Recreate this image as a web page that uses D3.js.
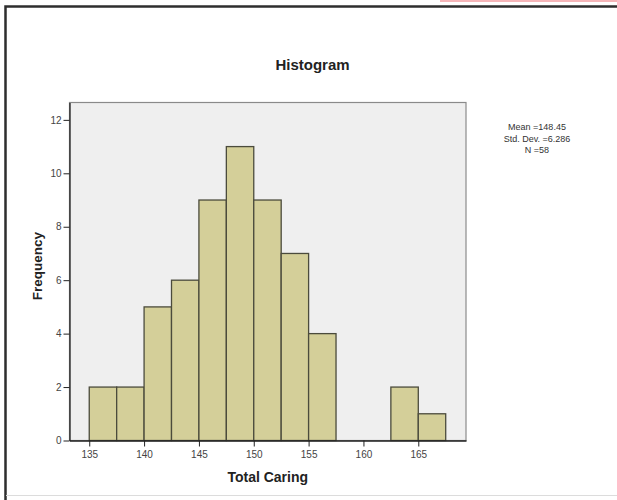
<!DOCTYPE html>
<html>
<head>
<meta charset="utf-8">
<script src="https://cdn.jsdelivr.net/npm/d3@7"></script>
<style>
  body { margin: 0; background: #fff; }
  svg { display: block; font-family: "Liberation Sans", Arial, sans-serif; }
  .tick text { fill: #444; font-size: 10px; }
  .tick line { stroke: #222; }
  .domain { stroke: #222; }
</style>
</head>
<body>
<div id="chart"></div>
<script>
// Data
// ==============================
var binStarts = [135, 137.5, 140, 142.5, 145, 147.5, 150, 152.5, 155, 157.5, 160, 162.5, 165];
var binWidth = 2.5;
var counts = [2, 2, 5, 6, 9, 11, 9, 7, 4, 0, 0, 2, 1];
var xTicks = [135, 140, 145, 150, 155, 160, 165];
var yTicks = [0, 2, 4, 6, 8, 10, 12];
var statLines = ["Mean =148.45", "Std. Dev. =6.286", "N =58"];

var svgWidth = 617;
var svgHeight = 500;

// plot box in page pixels
var plot = { left: 69.5, right: 466, top: 102.5, bottom: 440.5 };

var svg = d3.select("#chart")
  .append("svg")
  .attr("width", svgWidth)
  .attr("height", svgHeight);

// thin pink strip at top right
svg.append("rect")
  .attr("x", 440).attr("y", 0)
  .attr("width", 177).attr("height", 2)
  .attr("fill", "#f5b5b8");

// outer frame (left and top dark, bottom faint)
svg.append("path")
  .attr("d", "M5.5,500 L5.5,6.5 L617,6.5")
  .attr("fill", "none")
  .attr("stroke", "#2e2e2e")
  .attr("stroke-width", 2.5);
svg.append("line")
  .attr("x1", 6).attr("x2", 617)
  .attr("y1", 495.5).attr("y2", 495.5)
  .attr("stroke", "#dcdcdc");

// Scales
// ==============================
var x = d3.scaleLinear()
  .domain([133.2, 169.35])
  .range([plot.left, plot.right]);

var y = d3.scaleLinear()
  .domain([0, 12.65])
  .range([plot.bottom, plot.top]);

// plot background
svg.append("rect")
  .attr("x", plot.left)
  .attr("y", plot.top)
  .attr("width", plot.right - plot.left)
  .attr("height", plot.bottom - plot.top)
  .attr("fill", "#efefef")
  .attr("stroke", "#8a8a8a")
  .attr("stroke-width", 1.2);

// Bars
// ==============================
svg.selectAll("rect.bar")
  .data(counts.map(function(c, i) { return { x0: binStarts[i], n: c }; }).filter(function(d) { return d.n > 0; }))
  .enter()
  .append("rect")
  .attr("class", "bar")
  .attr("x", function(d) { return x(d.x0); })
  .attr("y", function(d) { return y(d.n); })
  .attr("width", function(d) { return x(d.x0 + binWidth) - x(d.x0); })
  .attr("height", function(d) { return y(0) - y(d.n); })
  .attr("fill", "#d4cf99")
  .attr("stroke", "#4b4b3c")
  .attr("stroke-width", 1.3);

// Axes
// ==============================
var bottomAxis = d3.axisBottom(x)
  .tickValues(xTicks)
  .tickSizeInner(6)
  .tickSizeOuter(0)
  .tickPadding(4);

var leftAxis = d3.axisLeft(y)
  .tickValues(yTicks)
  .tickSizeInner(6)
  .tickSizeOuter(0)
  .tickPadding(2);

svg.append("g")
  .attr("transform", "translate(0," + plot.bottom + ")")
  .call(bottomAxis);

svg.append("g")
  .attr("transform", "translate(" + plot.left + ",0)")
  .call(leftAxis);

svg.selectAll(".domain").attr("stroke-width", 1.3);

// Title and axis labels
// ==============================
svg.append("text")
  .attr("x", 312.5)
  .attr("y", 69.5)
  .attr("text-anchor", "middle")
  .attr("font-size", "15px")
  .attr("font-weight", "bold")
  .attr("fill", "#222")
  .text("Histogram");

svg.append("text")
  .attr("x", (plot.left + plot.right) / 2)
  .attr("y", 481.5)
  .attr("text-anchor", "middle")
  .attr("font-size", "14px")
  .attr("font-weight", "bold")
  .attr("fill", "#222")
  .text("Total Caring");

svg.append("text")
  .attr("transform", "translate(42,266) rotate(-90)")
  .attr("text-anchor", "middle")
  .attr("font-size", "13.5px")
  .attr("font-weight", "bold")
  .attr("fill", "#222")
  .text("Frequency");

// stats box
svg.selectAll("text.stat")
  .data(statLines)
  .enter()
  .append("text")
  .attr("class", "stat")
  .attr("x", 537)
  .attr("y", function(d, i) { return 130 + i * 11.5; })
  .attr("text-anchor", "middle")
  .attr("font-size", "9px")
  .attr("fill", "#333")
  .text(function(d) { return d; });
</script>
</body>
</html>
